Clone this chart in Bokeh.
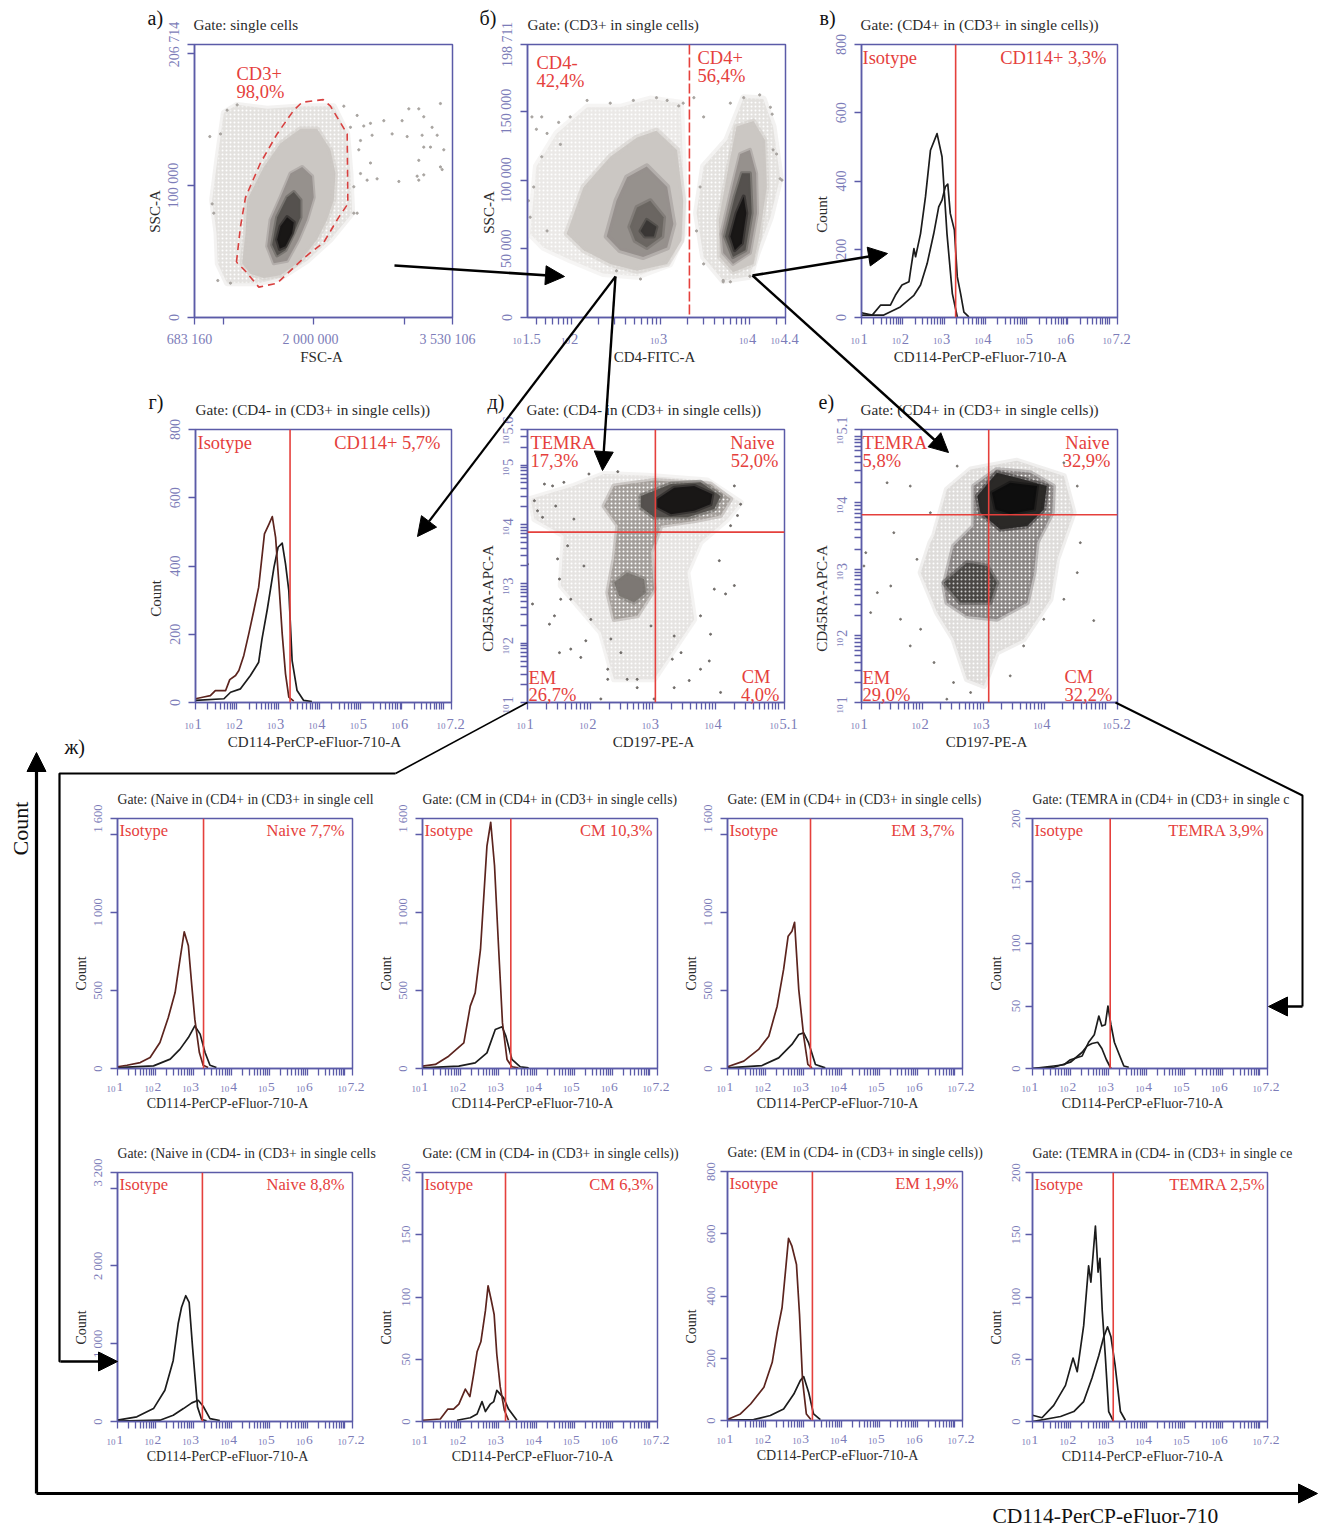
from bokeh.embed import file_html
from bokeh.resources import INLINE
from bokeh.plotting import figure
from bokeh.layouts import column
from bokeh.models import Range1d, FixedTicker, LinearAxis, Label, Span, Arrow, NormalHead
from math import log10, ceil, floor

# ---------- panel a: FSC-A (thousands) / SSC-A (thousands)
a_sparse_x = [878, 940, 1007, 1154, 1485, 1889, 2220, 2368, 2404, 2423, 2184, 1926, 1632, 1393, 1043, 940, 926]
a_sparse_y = [89, 122, 155, 161, 158, 160, 160, 139, 109, 79, 59, 43, 30, 26, 26, 41, 64]
a_body_x = [1209, 1246, 1264, 1448, 1632, 1853, 2036, 2184, 2239, 2220, 2147, 2036, 1853, 1632, 1448, 1301]
a_body_y = [41, 64, 89, 114, 132, 143, 143, 127, 109, 89, 74, 59, 43, 32, 30, 33]
a_mid_x = [1485, 1522, 1632, 1742, 1871, 1981, 1999, 1926, 1834, 1705, 1558]
a_mid_y = [54, 74, 91, 109, 114, 107, 91, 74, 59, 43, 41]
a_dark_x = [1540, 1595, 1705, 1779, 1853, 1853, 1779, 1687, 1595]
a_dark_y = [55, 76, 91, 95, 89, 76, 64, 51, 47]
a_core_x = [1595, 1632, 1705, 1779, 1761, 1687, 1624]
a_core_y = [59, 69, 76, 72, 64, 54, 52]
a_gate_x = [1146, 1191, 1246, 1411, 1595, 1779, 1871, 2103, 2184, 2368, 2375, 2276, 2110, 1889, 1595, 1393, 1246, 1146]
a_gate_y = [42, 69, 91, 117, 139, 157, 163, 165, 160, 139, 86, 76, 57, 45, 26, 23, 35, 42]
a_pts_x = [2478, 2551, 2625, 2772, 2974, 3048, 3158, 3397, 3213, 3305, 2864, 3030, 3195, 3361, 2643, 2515, 3434, 3287, 3213, 2496, 2625, 3158, 3397, 3416, 3213, 3140, 3158, 2938, 2698, 2588, 2515, 2441, 2478, 852, 878, 896, 940, 1080, 970, 1043, 1154, 2331, 2404, 2441]
a_pts_y = [153, 145, 147, 149, 149, 158, 158, 162, 152, 144, 139, 137, 138, 138, 138, 134, 127, 129, 129, 127, 117, 119, 114, 112, 108, 107, 104, 103, 105, 104, 109, 79, 79, 137, 86, 79, 28, 26, 139, 157, 161, 160, 144, 99]

# ---------- panel b: log CD4 / SSC-A (thousands)
b_ls_x = [1.53, 1.60, 1.83, 2.17, 2.54, 2.88, 3.22, 3.25, 3.25, 3.10, 2.73, 2.35, 1.98, 1.68]
b_ls_y = [61, 110, 134, 153, 153, 159, 156, 110, 61, 39, 30, 32, 42, 51]
b_lb_x = [1.94, 2.13, 2.43, 2.73, 2.95, 3.18, 3.25, 3.23, 3.07, 2.73, 2.43, 2.13]
b_lb_y = [61, 95, 117, 131, 136, 122, 85, 56, 39, 34, 39, 49]
b_lm_x = [2.39, 2.50, 2.62, 2.84, 3.07, 3.14, 3.07, 2.80, 2.54]
b_lm_y = [59, 85, 102, 110, 95, 68, 51, 44, 49]
b_ld_x = [2.65, 2.73, 2.88, 3.03, 3.01, 2.84, 2.71]
b_ld_y = [66, 80, 85, 73, 59, 51, 56]
b_lc_x = [2.77, 2.84, 2.95, 2.92, 2.82]
b_lc_y = [63, 71, 66, 59, 59]
b_rs_x = [3.40, 3.48, 3.74, 3.93, 4.15, 4.26, 4.34, 4.23, 4.08, 4.0, 3.70, 3.48]
b_rs_y = [76, 110, 129, 160, 159, 139, 102, 73, 47, 30, 27, 44]
b_rb_x = [3.65, 3.76, 3.85, 4.04, 4.17, 4.19, 4.11, 4.04, 3.81, 3.66]
b_rb_y = [71, 110, 139, 143, 129, 95, 61, 39, 33, 44]
b_rm_x = [3.68, 3.80, 3.89, 4.0, 4.07, 4.08, 4.0, 3.81, 3.70]
b_rm_y = [61, 95, 119, 122, 105, 76, 47, 39, 47]
b_rd_x = [3.72, 3.83, 3.91, 4.0, 4.02, 3.95, 3.81]
b_rd_y = [59, 88, 105, 105, 76, 49, 44]
b_rc_x = [3.78, 3.85, 3.93, 3.96, 3.91, 3.83]
b_rc_y = [59, 76, 88, 76, 54, 49]
b_pts_x = [1.66, 1.98, 1.85, 1.55, 4.30, 4.34, 4.25, 4.11, 3.37, 3.70, 2.77, 2.50, 3.48, 3.25, 1.51, 1.60, 1.72, 1.87, 1.66, 1.57, 1.53, 1.72, 2.17, 2.43, 2.69, 2.95, 3.07, 3.20, 3.78, 3.93, 4.23, 4.26, 4.36, 3.44, 3.40, 3.48, 3.70, 3.78, 4.0]
b_pts_y = [146, 146, 142, 146, 119, 101, 148, 162, 160, 26, 28, 34, 146, 156, 85, 137, 134, 126, 117, 95, 73, 63, 158, 156, 158, 160, 158, 154, 156, 160, 153, 122, 100, 95, 63, 39, 27, 26, 30]

# ---------- panel d: log CD197 / log CD45RA (CD4-)
d_sparse_x = [1.05, 1.74, 2.22, 2.91, 3.87, 4.40, 4.19, 3.76, 3.55, 3.66, 3.02, 2.38, 2.17, 1.53, 1.58, 1.11]
d_sparse_y = [4.43, 4.65, 4.85, 4.82, 4.74, 4.37, 4.09, 3.70, 3.19, 2.40, 1.39, 1.39, 2.18, 2.97, 3.81, 4.09]
d_band_x = [2.38, 3.02, 3.92, 4.24, 4.08, 3.66, 3.13, 2.97, 3.02, 2.75, 2.38, 2.28, 2.38, 2.44, 2.22]
d_band_y = [4.65, 4.74, 4.68, 4.43, 4.15, 4.06, 3.98, 3.53, 2.91, 2.46, 2.40, 2.85, 3.42, 3.98, 4.31]
d_dark_x = [2.81, 3.29, 3.76, 4.08, 3.98, 3.55, 3.02, 2.81]
d_dark_y = [4.48, 4.68, 4.71, 4.48, 4.26, 4.12, 4.12, 4.29]
d_core_x = [3.07, 3.34, 3.66, 3.95, 3.92, 3.66, 3.29, 3.07]
d_core_y = [4.43, 4.62, 4.65, 4.51, 4.34, 4.23, 4.17, 4.29]
d_spot_x = [2.38, 2.59, 2.86, 2.89, 2.70, 2.46]
d_spot_y = [3.02, 3.19, 3.08, 2.85, 2.69, 2.80]
d_pts_x = [1.27, 1.40, 1.11, 1.16, 1.24, 1.08, 1.00, 1.48, 1.51, 1.53, 1.43, 1.35, 1.69, 1.51, 1.93, 1.85, 2.28, 2.28, 2.59, 2.75, 2.75, 3.02, 3.34, 3.58, 4.08, 3.76, 3.90, 3.92, 3.76, 3.98, 4.16, 4.30, 4.06, 4.24, 4.35, 4.40, 4.30, 2.17, 3.31, 2.97, 3.34, 3.45, 2.49, 2.33, 2.01, 1.69, 1.90, 1.64, 1.74, 1.45, 1.58, 1.98, 2.44]
d_pts_y = [4.68, 4.65, 4.40, 4.23, 4.12, 2.66, 3.33, 3.42, 3.08, 2.74, 2.46, 2.32, 1.90, 1.84, 2.04, 1.76, 1.56, 1.39, 1.39, 1.39, 1.25, 1.06, 1.25, 1.37, 1.17, 1.56, 1.70, 2.15, 2.46, 2.91, 2.83, 2.97, 3.39, 3.98, 4.15, 4.34, 4.65, 1.06, 1.73, 2.29, 2.12, 1.84, 1.84, 2.07, 2.40, 2.74, 3.30, 3.64, 4.09, 4.31, 4.71, 4.85, 4.89]

# ---------- panel e: log CD197 / log CD45RA (CD4+)
e_sparse_x = [2.19, 2.40, 2.79, 3.55, 4.32, 4.48, 4.21, 4.10, 3.66, 3.22, 3.01, 2.73, 2.51, 2.24, 1.97, 2.13]
e_sparse_y = [3.50, 4.20, 4.50, 4.63, 4.40, 3.85, 3.15, 2.55, 1.95, 1.75, 1.25, 1.35, 1.95, 2.35, 2.95, 3.40]
e_mid_x = [2.35, 2.51, 2.84, 2.84, 3.22, 3.77, 4.15, 4.13, 3.88, 3.83, 3.72, 3.22, 2.73, 2.40]
e_mid_y = [2.75, 3.35, 3.65, 4.25, 4.50, 4.45, 4.25, 3.85, 3.40, 2.95, 2.50, 2.25, 2.30, 2.50]
e_low_x = [2.35, 2.73, 3.06, 3.22, 3.11, 2.62]
e_low_y = [2.80, 3.10, 3.05, 2.80, 2.50, 2.50]
e_dark_x = [2.90, 3.22, 3.66, 4.04, 3.99, 3.72, 3.28, 2.95]
e_dark_y = [4.10, 4.45, 4.35, 4.25, 3.90, 3.65, 3.60, 3.85]
e_core_x = [3.14, 3.44, 3.88, 3.83, 3.44, 3.20]
e_core_y = [4.15, 4.30, 4.25, 3.90, 3.83, 3.90]
e_pts_x = [1.80, 1.42, 1.07, 1.04, 1.15, 1.64, 1.80, 1.91, 1.53, 1.97, 2.19, 2.40, 2.79, 2.51, 3.44, 3.66, 3.99, 4.32, 4.81, 4.54, 4.59, 4.54, 4.32, 1.48, 1.26, 2.13, 2.57]
e_pts_y = [4.25, 4.30, 3.25, 3.05, 2.35, 2.25, 1.85, 3.15, 3.55, 2.10, 1.60, 1.05, 1.15, 1.30, 1.40, 1.85, 2.25, 2.55, 2.23, 2.95, 3.40, 4.25, 4.60, 2.75, 2.65, 3.85, 4.55]

# ---------- histograms: log10 intensity / count
v_iso_x = [1.0, 1.26, 1.46, 1.70, 1.82, 1.98, 2.15, 2.19, 2.27, 2.31, 2.43, 2.55, 2.67, 2.83, 2.95, 3.07, 3.20, 3.32]
v_iso_y = [14, 7, 36, 36, 65, 95, 105, 139, 202, 178, 246, 354, 490, 539, 471, 246, 70, 2]
v_pos_x = [1.0, 1.54, 1.94, 2.27, 2.43, 2.59, 2.75, 2.87, 2.95, 3.03, 3.09, 3.15, 3.25, 3.32, 3.40, 3.48, 3.60]
v_pos_y = [7, 7, 31, 65, 95, 158, 246, 324, 344, 383, 391, 305, 256, 119, 70, 16, 2]
g_iso_x = [1.0, 1.20, 1.36, 1.48, 1.73, 1.83, 1.97, 2.05, 2.17, 2.29, 2.41, 2.53, 2.67, 2.78, 2.86, 2.94, 3.02, 3.10, 3.18, 3.26, 3.38]
g_iso_y = [11, 16, 20, 35, 35, 67, 79, 94, 138, 201, 268, 338, 494, 523, 545, 484, 348, 201, 84, 16, 4]
g_pos_x = [1.0, 1.69, 1.85, 2.09, 2.33, 2.53, 2.61, 2.74, 2.90, 3.0, 3.10, 3.18, 3.26, 3.34, 3.46, 3.62, 3.82]
g_pos_y = [6, 11, 30, 40, 79, 118, 186, 274, 396, 455, 467, 406, 328, 123, 35, 6, 3]
z1_iso_x = [1.0, 1.25, 1.60, 1.86, 2.12, 2.34, 2.52, 2.65, 2.76, 2.87, 2.96, 3.04, 3.16, 3.26, 3.39]
z1_iso_y = [11, 21, 38, 70, 166, 326, 486, 700, 875, 785, 530, 316, 102, 21, 6]
z1_pos_x = [1, 1.95, 2.39, 2.65, 2.87, 3.04, 3.18, 3.31, 3.44, 3.61]
z1_pos_y = [6, 17, 60, 124, 198, 273, 220, 102, 21, 6]
z2_iso_x = [1, 1.34, 1.69, 2.09, 2.26, 2.39, 2.53, 2.70, 2.80, 2.90, 3.01, 3.11, 3.23, 3.36, 3.53]
z2_iso_y = [15, 26, 79, 164, 399, 484, 762, 1423, 1576, 1299, 762, 292, 58, 11, 4]
z2_pos_x = [1, 1.96, 2.39, 2.70, 2.92, 3.10, 3.20, 3.36, 3.58, 3.80]
z2_pos_y = [4, 15, 36, 100, 250, 267, 207, 58, 11, 4]
z3_iso_x = [1, 1.43, 1.82, 2.09, 2.31, 2.48, 2.60, 2.70, 2.77, 2.88, 3.01, 3.12, 3.23]
z3_iso_y = [11, 47, 122, 207, 399, 634, 847, 879, 936, 505, 207, 26, 4]
z3_pos_x = [1, 1.91, 2.35, 2.70, 2.88, 3.01, 3.14, 3.32, 3.58]
z3_pos_y = [4, 19, 68, 154, 218, 228, 164, 26, 4]
z4_iso_x = [1, 1.56, 1.83, 2, 2.31, 2.48, 2.63, 2.75, 2.83, 2.92, 2.99, 3.07, 3.16, 3.29, 3.41, 3.54]
z4_iso_y = [0, 2, 3, 7, 10, 21, 27, 42, 34, 35, 50, 35, 21, 11, 2, 1]
z4_pos_x = [1, 1.56, 2, 2.31, 2.44, 2.57, 2.72, 2.83, 2.95, 3.07]
z4_pos_y = [0, 1, 5, 13, 18, 20, 21, 16, 7, 0]
z5_iso_x = [1, 1.51, 1.95, 2.25, 2.47, 2.60, 2.69, 2.80, 2.89, 2.98, 3.11, 3.22, 3.35]
z5_iso_y = [17, 60, 166, 401, 785, 1256, 1468, 1617, 1532, 956, 188, 26, 9]
z5_pos_x = [1, 2.12, 2.47, 2.74, 2.96, 3.13, 3.26, 3.44, 3.70]
z5_pos_y = [4, 17, 81, 166, 239, 273, 196, 38, 13]
z6_iso_x = [1, 1.47, 1.67, 1.82, 1.96, 2.13, 2.25, 2.35, 2.44, 2.54, 2.66, 2.73, 2.81, 2.89, 2.96, 3.05, 3.16, 3.27]
z6_iso_y = [1, 2, 10, 10, 14, 26, 20, 38, 56, 64, 89, 109, 98, 86, 54, 28, 9, 1]
z6_pos_x = [1.91, 2.26, 2.44, 2.57, 2.66, 2.79, 2.88, 2.96, 3.14, 3.27, 3.49]
z6_pos_y = [1, 3, 6, 16, 8, 14, 16, 25, 19, 10, 1]
z7_iso_x = [1, 1.34, 1.61, 1.96, 2.18, 2.31, 2.44, 2.53, 2.61, 2.70, 2.82, 2.90, 2.98, 3.08, 3.20]
z7_iso_y = [3, 21, 53, 107, 187, 283, 363, 480, 585, 560, 501, 341, 128, 21, 3]
z7_pos_x = [1, 1.69, 2.13, 2.48, 2.75, 2.92, 3.01, 3.14, 3.27, 3.45]
z7_pos_y = [1, 3, 16, 37, 85, 128, 141, 91, 21, 3]
z8_iso_x = [1, 1.25, 1.56, 1.87, 2.07, 2.18, 2.35, 2.48, 2.54, 2.66, 2.73, 2.78, 2.84, 2.92, 3.01, 3.14]
z8_iso_y = [5, 3, 13, 29, 51, 40, 77, 125, 112, 157, 120, 131, 89, 53, 8, 0]
z8_pos_x = [1, 1.74, 2.09, 2.35, 2.57, 2.75, 2.88, 2.98, 3.07, 3.18, 3.32, 3.45]
z8_pos_y = [0, 4, 8, 16, 35, 53, 68, 76, 68, 45, 8, 1]

# ---------- styles
SERIF = "Liberation Serif"
AXC = "#5b5ba8"
TICKC = "#7c7cb8"
RED = "#e5403c"
INK = "#2b2b2b"
BROWN = "#5c241e"
BLACK = "#1c1c1c"
G0, G1, G2, G3, G4 = "#e4e2df", "#cbc7c3", "#96918d", "#55514e", "#191716"
BOX = {}

# The overlay covers the whole page and carries the arrows and every text that
# lies outside a panel's frame (Labels are clipped to the frame they belong to).
ov = figure(width=1316, height=1519, x_range=Range1d(8, 1324), y_range=Range1d(1527, 8),
            x_axis_type=None, y_axis_type=None, min_border=0, toolbar_location=None, frame_align=False,
            output_backend="svg", background_fill_color=None, border_fill_color=None,
            outline_line_color=None,
            styles={"position": "absolute", "left": "8px", "top": "8px", "pointer-events": "none"})
ov.grid.visible = False


def log_minors(lo, hi):
    out = []
    d = int(lo) - 1
    while d < hi:
        for m in range(2, 10):
            v = d + log10(m)
            if lo < v < hi:
                out.append(v)
        d += 1
    return out


def panel(left, top, right, bottom, xr, yr, L=70, R=30, T=44, B=52):
    w, h = right - left, bottom - top
    p = figure(width=w + L + R, height=h + T + B,
               x_range=Range1d(*xr), y_range=Range1d(*yr),
               x_axis_type=None, y_axis_type=None, frame_align=False,
               min_border_left=L, min_border_right=R, min_border_top=T, min_border_bottom=B,
               toolbar_location=None, output_backend="svg",
               background_fill_color=None, border_fill_color=None,
               outline_line_color=AXC, outline_line_width=1.5,
               styles={"position": "absolute", "left": f"{left - L}px", "top": f"{top - T}px"})
    p.grid.visible = False
    BOX[p.id] = (left, top, right, bottom, xr, yr)
    return p


def set_axis(p, side, majors, minors=(), overrides=None, font="14px", hide=False, tick=7, standoff=6):
    ax = LinearAxis(ticker=FixedTicker(ticks=list(majors), minor_ticks=list(minors)))
    ax.axis_line_color = AXC
    ax.axis_line_width = 1.5
    ax.major_tick_line_color = AXC
    ax.minor_tick_line_color = AXC
    ax.major_tick_line_width = 1.3
    ax.minor_tick_line_width = 1.3
    ax.major_tick_out = tick
    ax.major_tick_in = 0
    ax.minor_tick_out = tick
    ax.minor_tick_in = 0
    ax.major_label_text_font = SERIF
    ax.major_label_text_color = TICKC
    ax.major_label_text_font_size = font
    ax.major_label_standoff = standoff
    if hide:
        ax.major_label_overrides = {t: "" for t in majors}
    if overrides:
        ax.major_label_overrides = overrides
    if side == "left":
        ax.major_label_orientation = "vertical"
    p.add_layout(ax, side)
    return ax


def txt(px, py, s, size="15px", color=INK, align="left", angle=0, baseline="middle"):
    ov.add_layout(Label(x=px, y=py, text=s, text_font=SERIF, text_font_size=size, text_color=color,
                        text_align=align, text_baseline=baseline, angle=angle, angle_units="deg"))


def log_xlabels(p, labels, base=21, efont="14.5px"):
    left, _, right, bottom, xr, _ = BOX[p.id]
    for e in labels:
        shift = -5 if e != int(e) else -1
        sx = left + (e - xr[0]) / (xr[1] - xr[0]) * (right - left)
        txt(sx + shift - 1, bottom + base + 2, "10", "9px", TICKC, "right", baseline="alphabetic")
        txt(sx + shift, bottom + base, str(e), efont, TICKC, "left", baseline="alphabetic")


def log_ylabels(p, labels, base=20, efont="14.5px"):
    left, top, _, bottom, _, yr = BOX[p.id]
    for e in labels:
        shift = -5 if e != int(e) else -1
        sy = bottom - (e - yr[0]) / (yr[1] - yr[0]) * (bottom - top)
        txt(left - base - 2, sy - shift + 1, "10", "9px", TICKC, "right", 90, "alphabetic")
        txt(left - base, sy - shift, str(e), efont, TICKC, "left", 90, "alphabetic")


def log_xaxis(p, xr, labels, base=21, efont="14.5px"):
    majors = list(range(ceil(xr[0]), floor(xr[1]) + 1))
    set_axis(p, "below", majors + [xr[1]], log_minors(*xr), hide=True)
    log_xlabels(p, labels, base, efont)


def gate(p, where, dim, dash="solid", width=1.6):
    p.add_layout(Span(location=where, dimension=dim, line_color=RED, line_width=width, line_dash=dash))


def blob(p, xs, ys, color, soft=3.0, hatch=None):
    kw = {}
    if hatch:
        kw = dict(hatch_pattern="dot", hatch_color=hatch, hatch_scale=4, hatch_weight=1)
    p.patch(xs, ys, fill_color=color, line_color=color, line_alpha=0.45, line_width=soft,
            line_join="round", **kw)


def hist(box, ymax, ymajors, ylabels, gate_x, iso, pos, iso_col, font_tick="14px",
         R=30, T=44, B=44, efont="14.5px", base=21, standoff=6):
    p = panel(*box, (1, 7.2), (0, ymax), R=R, T=T, B=B)
    set_axis(p, "left", ymajors, overrides=ylabels, font=font_tick, standoff=standoff)
    log_xaxis(p, (1, 7.2), [1, 2, 3, 4, 5, 6, 7.2], base=base, efont=efont)
    gate(p, gate_x, "height")
    p.line(pos[0], pos[1], line_color=BLACK, line_width=1.7, line_join="round")
    p.line(iso[0], iso[1], line_color=iso_col, line_width=1.7, line_join="round")
    return p


figs = []
k = lambda v: [i * 1000 for i in v]

# --- а
pa = panel(194, 44, 452, 317, (683160, 3530106), (0, 206714), L=50, R=40)
set_axis(pa, "left", [0, 100000, 200000, 206714],
         overrides={0: "0", 100000: "100 000", 200000: "", 206714: "206 714"})
set_axis(pa, "below", [683160, 1000000, 2000000, 3000000, 3530106], hide=True)
blob(pa, k(a_sparse_x), k(a_sparse_y), G0, 6, "#ffffff")
blob(pa, k(a_body_x), k(a_body_y), G1, 5)
blob(pa, k(a_mid_x), k(a_mid_y), G2, 4)
blob(pa, k(a_dark_x), k(a_dark_y), G3, 4)
blob(pa, k(a_core_x), k(a_core_y), G4, 4)
pa.scatter(k(a_pts_x), k(a_pts_y), size=2.2, color="#a8a4a0")
pa.line(k(a_gate_x), k(a_gate_y), line_color="#d8403f", line_width=1.6, line_dash="7 5")
txt(147, 17, "а)", "20px", "#111111")
txt(193, 24, "Gate: single cells", "15.2px")
txt(236, 73, "CD3+", "18.5px", RED)
txt(236, 91, "98,0%", "18.5px", RED)
txt(154, 211, "SSC-A", align="center", angle=90)
txt(321, 356, "FSC-A", align="center")
txt(189, 339, "683 160", "14px", TICKC, "center")
txt(310, 339, "2 000 000", "14px", TICKC, "center")
txt(447, 339, "3 530 106", "14px", TICKC, "center")
figs.append(pa)

# --- б
pb = panel(527, 44, 785, 317, (1.5, 4.4), (0, 198711), L=50, R=40)
set_axis(pb, "left", [0, 50000, 100000, 150000, 198711],
         overrides={0: "0", 50000: "50 000", 100000: "100 000", 150000: "150 000", 198711: "198 711"})
log_xaxis(pb, (1.5, 4.4), [1.5, 2, 3, 4, 4.4])
blob(pb, b_ls_x, k(b_ls_y), "#ebe9e7", 7, "#ffffff")
blob(pb, b_rs_x, k(b_rs_y), G0, 7, "#ffffff")
blob(pb, b_lb_x, k(b_lb_y), G1, 6)
blob(pb, b_rb_x, k(b_rb_y), G1, 5)
blob(pb, b_lm_x, k(b_lm_y), G2, 6)
blob(pb, b_rm_x, k(b_rm_y), G2, 4)
blob(pb, b_ld_x, k(b_ld_y), "#6b6662", 5)
blob(pb, b_rd_x, k(b_rd_y), G3, 4)
blob(pb, b_lc_x, k(b_lc_y), "#3a3735", 4)
blob(pb, b_rc_x, k(b_rc_y), G4, 4)
pb.scatter(b_pts_x, k(b_pts_y), size=2.2, color="#a8a4a0")
gate(pb, 3.32, "height", dash="10 3")
txt(479, 17, "б)", "20px", "#111111")
txt(527, 24, "Gate: (CD3+ in single cells)", "15.2px")
txt(536, 62, "CD4-", "18.5px", RED)
txt(536, 80, "42,4%", "18.5px", RED)
txt(697, 57, "CD4+", "18.5px", RED)
txt(697, 75, "56,4%", "18.5px", RED)
txt(488, 212, "SSC-A", align="center", angle=90)
txt(654, 356, "CD4-FITC-A", align="center")
figs.append(pb)

# --- в
t800 = ([0, 200, 400, 600, 800], {0: "0", 200: "200", 400: "400", 600: "600", 800: "800"})
pv = hist((861, 44, 1117, 317), 800, t800[0], t800[1], 3.28,
          (v_iso_x, v_iso_y), (v_pos_x, v_pos_y), BLACK, B=52, standoff=9)
txt(819, 17, "в)", "20px", "#111111")
txt(860, 24, "Gate: (CD4+ in (CD3+ in single cells))", "15.2px")
txt(862, 57, "Isotype", "18.5px", RED)
txt(1106, 57, "CD114+ 3,3%", "18.5px", RED, "right")
txt(821, 214, "Count", align="center", angle=90)
txt(980, 356, "CD114-PerCP-eFluor-710-A", align="center")
figs.append(pv)

# --- г
pg = hist((195, 429, 451, 702), 800, t800[0], t800[1], 3.29,
          (g_iso_x, g_iso_y), (g_pos_x, g_pos_y), BROWN, B=52, standoff=9)
txt(148, 401, "г)", "20px", "#111111")
txt(195, 409, "Gate: (CD4- in (CD3+ in single cells))", "15.2px")
txt(197, 442, "Isotype", "18.5px", RED)
txt(440, 442, "CD114+ 5,7%", "18.5px", RED, "right")
txt(155, 598, "Count", align="center", angle=90)
txt(314, 741, "CD114-PerCP-eFluor-710-A", align="center")
figs.append(pg)

# --- д
pd_ = panel(527, 429, 784, 702, (1, 5.1), (1, 5.6), L=50, R=40)
set_axis(pd_, "left", [1, 2, 3, 4, 5, 5.6], log_minors(1, 5.6), hide=True)
set_axis(pd_, "below", [1, 2, 3, 4, 5, 5.1], log_minors(1, 5.1), hide=True)
log_xlabels(pd_, [1, 2, 3, 4, 5.1])
log_ylabels(pd_, [1, 2, 3, 4, 5, 5.6])
blob(pd_, d_sparse_x, d_sparse_y, "#e6e4e2", 6, "#ffffff")
blob(pd_, d_band_x, d_band_y, "#a39e9a", 5, "#ffffff")
blob(pd_, d_spot_x, d_spot_y, "#7d7874", 5)
blob(pd_, d_dark_x, d_dark_y, "#55514e", 5)
blob(pd_, d_core_x, d_core_y, G4, 4)
pd_.scatter(d_pts_x, d_pts_y, size=2.0, color="#6f6b68")
gate(pd_, 3.04, "height")
gate(pd_, 3.87, "width")
txt(487, 401, "д)", "20px", "#111111")
txt(526, 409, "Gate: (CD4- in (CD3+ in single cells))", "15.2px")
txt(530, 442, "TEMRA", "18.5px", RED)
txt(530, 460, "17,3%", "18.5px", RED)
txt(774, 442, "Naive", "18.5px", RED, "right")
txt(778, 460, "52,0%", "18.5px", RED, "right")
txt(528, 677, "EM", "18.5px", RED)
txt(528, 694, "26,7%", "18.5px", RED)
txt(770, 676, "CM", "18.5px", RED, "right")
txt(779, 694, "4,0%", "18.5px", RED, "right")
txt(487, 598, "CD45RA-APC-A", align="center", angle=90)
txt(653, 741, "CD197-PE-A", align="center")
figs.append(pd_)

# --- е
pe = panel(861, 429, 1117, 702, (1, 5.2), (1, 5.1), L=50, R=40)
set_axis(pe, "left", [1, 2, 3, 4, 5, 5.1], log_minors(1, 5.1), hide=True)
set_axis(pe, "below", [1, 2, 3, 4, 5, 5.2], log_minors(1, 5.2), hide=True)
log_xlabels(pe, [1, 2, 3, 4, 5.2])
log_ylabels(pe, [1, 2, 3, 4, 5.1])
blob(pe, e_sparse_x, e_sparse_y, "#dedcda", 6, "#ffffff")
blob(pe, e_mid_x, e_mid_y, "#8a8684", 5, "#ffffff")
blob(pe, e_low_x, e_low_y, "#4a4744", 5, "#cccccc")
blob(pe, e_dark_x, e_dark_y, "#2b2927", 5)
blob(pe, e_core_x, e_core_y, "#0e0e0e", 4)
pe.scatter(e_pts_x, e_pts_y, size=1.9, color="#77736f")
gate(pe, 3.087, "height")
gate(pe, 3.82, "width")
txt(818, 401, "е)", "20px", "#111111")
txt(860, 409, "Gate: (CD4+ in (CD3+ in single cells))", "15.2px")
txt(862, 442, "TEMRA", "18.5px", RED)
txt(862, 460, "5,8%", "18.5px", RED)
txt(1109, 442, "Naive", "18.5px", RED, "right")
txt(1110, 460, "32,9%", "18.5px", RED, "right")
txt(862, 677, "EM", "18.5px", RED)
txt(862, 694, "29,0%", "18.5px", RED)
txt(1064, 676, "CM", "18.5px", RED)
txt(1064, 694, "32,2%", "18.5px", RED)
txt(821, 598, "CD45RA-APC-A", align="center", angle=90)
txt(986, 741, "CD197-PE-A", align="center")
figs.append(pe)

# --- ж small multiples
t1600 = ([0, 500, 1000, 1500, 1600], {0: "0", 500: "500", 1000: "1 000", 1500: "", 1600: "1 600"})
t200 = ([0, 50, 100, 150, 200], {0: "0", 50: "50", 100: "100", 150: "150", 200: "200"})
t3200 = ([0, 1000, 2000, 3000, 3200], {0: "0", 1000: "1 000", 2000: "2 000", 3000: "", 3200: "3 200"})
cols = [117, 422, 727, 1032]
small = [
    (0, 818, 1068, 1600, t1600, 3.27, z1_iso_x, z1_iso_y, z1_pos_x, z1_pos_y, BROWN,
     "Gate: (Naive in (CD4+ in (CD3+ in single cell", "Naive 7,7%", 344),
    (1, 818, 1068, 1600, t1600, 3.33, z2_iso_x, z2_iso_y, z2_pos_x, z2_pos_y, BROWN,
     "Gate: (CM in (CD4+ in (CD3+ in single cells)", "CM 10,3%", 652),
    (2, 818, 1068, 1600, t1600, 3.19, z3_iso_x, z3_iso_y, z3_pos_x, z3_pos_y, BROWN,
     "Gate: (EM in (CD4+ in (CD3+ in single cells)", "EM 3,7%", 954),
    (3, 818, 1068, 200, t200, 3.05, z4_iso_x, z4_iso_y, z4_pos_x, z4_pos_y, BLACK,
     "Gate: (TEMRA in (CD4+ in (CD3+ in single c", "TEMRA 3,9%", 1264),
    (0, 1172, 1421, 3200, t3200, 3.24, z5_iso_x, z5_iso_y, z5_pos_x, z5_pos_y, BLACK,
     "Gate: (Naive in (CD4- in (CD3+ in single cells", "Naive 8,8%", 344),
    (1, 1172, 1421, 200, t200, 3.19, z6_iso_x, z6_iso_y, z6_pos_x, z6_pos_y, BROWN,
     "Gate: (CM in (CD4- in (CD3+ in single cells))", "CM 6,3%", 653),
    (2, 1171, 1420, 800, t800, 3.24, z7_iso_x, z7_iso_y, z7_pos_x, z7_pos_y, BROWN,
     "Gate: (EM in (CD4- in (CD3+ in single cells))", "EM 1,9%", 958),
    (3, 1172, 1421, 200, t200, 3.13, z8_iso_x, z8_iso_y, z8_pos_x, z8_pos_y, BLACK,
     "Gate: (TEMRA in (CD4- in (CD3+ in single ce", "TEMRA 2,5%", 1265),
]
for c, ftop, fbot, ymax, tk, gx, ix, iy, px_, py_, col, title, right_text, rx in small:
    l = cols[c]
    q = hist((l, ftop, l + 235, fbot), ymax, tk[0], tk[1], gx, (ix, iy), (px_, py_), col,
             font_tick="12.5px", efont="13.5px", base=18)
    txt(l, ftop - 19, title, "13.75px")
    txt(l + 2, ftop + 12, "Isotype", "16.5px", RED)
    txt(rx, ftop + 12, right_text, "16.5px", RED, "right")
    txt(l - 36, ftop + 155, "Count", "14px", align="center", angle=90)
    txt(l + 110, fbot + 35, "CD114-PerCP-eFluor-710-A", "14px", align="center")
    figs.append(q)

# --- overlay: arrows and the big axes
arrows = [(394, 265, 564, 276, 2.6), (752, 275, 887, 253, 2.6), (752, 275, 948, 452, 2.4),
          (615, 276, 417, 536, 2.2), (615, 276, 602, 470, 2.4), (60, 1361, 117, 1361, 2.4),
          (1302, 1006, 1268, 1006, 2.4), (36, 1493, 36, 752, 3.2), (36, 1493, 1317, 1493, 3.2)]
for x0, y0, x1, y1, w in arrows:
    ov.add_layout(Arrow(end=NormalHead(size=19, fill_color="black", line_color="black"),
                        x_start=x0, y_start=y0, x_end=x1, y_end=y1,
                        line_color="black", line_width=w))
ov.line([527, 395], [702, 773], line_color="black", line_width=1.6)
ov.line([395, 59, 59, 60], [773, 773, 1361, 1361], line_color="black", line_width=2.2)
ov.line([1115, 1302, 1302], [702, 795, 1006], line_color="black", line_width=2)
txt(64, 746, "ж)", "20px", "#111111")
txt(20, 828, "Count", "22px", "#111111", "center", 90)
txt(992, 1515, "CD114-PerCP-eFluor-710", "21.5px", "#111111")
figs.append(ov)

root = column(*figs, width=1316, height=1519, styles={"position": "relative"})
open("out.html", "w").write(file_html(root, INLINE))
